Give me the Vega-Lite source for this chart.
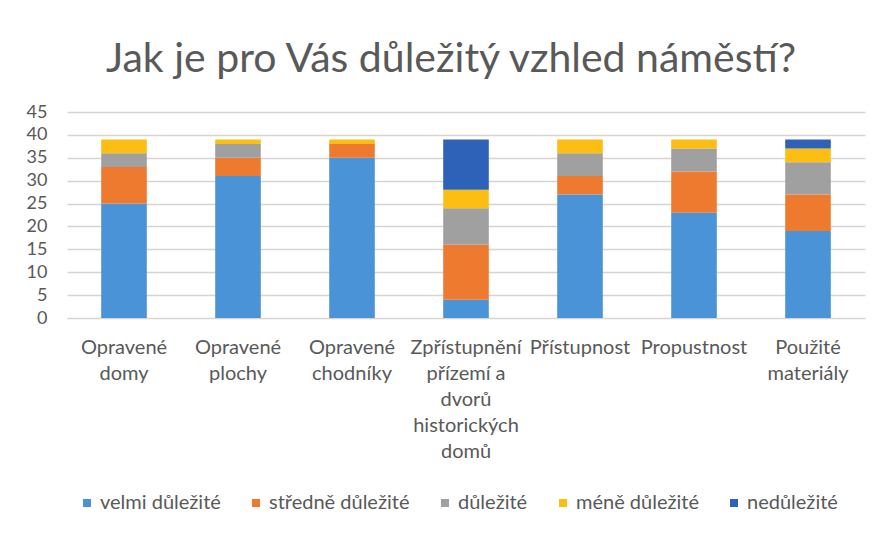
{
  "$schema": "https://vega.github.io/schema/vega-lite/v6.json",
  "width": 798,
  "height": 206,
  "autosize": {"type": "none"},
  "padding": {"left": 67, "top": 112, "right": 22, "bottom": 218},
  "background": "white",
  "title": {
    "text": "Jak je pro Vás důležitý vzhled náměstí?",
    "font": "Lato",
    "fontSize": 41,
    "fontWeight": "normal",
    "color": "#595959",
    "anchor": "middle",
    "offset": 22,
    "dx": -15
  },
  "data": {
    "values": [
      {"cat": "Opravené domy", "level": "velmi důležité", "o": 1, "v": 25},
      {"cat": "Opravené domy", "level": "středně důležité", "o": 2, "v": 8},
      {"cat": "Opravené domy", "level": "důležité", "o": 3, "v": 3},
      {"cat": "Opravené domy", "level": "méně důležité", "o": 4, "v": 3},
      {"cat": "Opravené domy", "level": "nedůležité", "o": 5, "v": 0},
      {"cat": "Opravené plochy", "level": "velmi důležité", "o": 1, "v": 31},
      {"cat": "Opravené plochy", "level": "středně důležité", "o": 2, "v": 4},
      {"cat": "Opravené plochy", "level": "důležité", "o": 3, "v": 3},
      {"cat": "Opravené plochy", "level": "méně důležité", "o": 4, "v": 1},
      {"cat": "Opravené plochy", "level": "nedůležité", "o": 5, "v": 0},
      {"cat": "Opravené chodníky", "level": "velmi důležité", "o": 1, "v": 35},
      {"cat": "Opravené chodníky", "level": "středně důležité", "o": 2, "v": 3},
      {"cat": "Opravené chodníky", "level": "důležité", "o": 3, "v": 0},
      {"cat": "Opravené chodníky", "level": "méně důležité", "o": 4, "v": 1},
      {"cat": "Opravené chodníky", "level": "nedůležité", "o": 5, "v": 0},
      {"cat": "Zpřístupnění přízemí a dvorů historických domů", "level": "velmi důležité", "o": 1, "v": 4},
      {"cat": "Zpřístupnění přízemí a dvorů historických domů", "level": "středně důležité", "o": 2, "v": 12},
      {"cat": "Zpřístupnění přízemí a dvorů historických domů", "level": "důležité", "o": 3, "v": 8},
      {"cat": "Zpřístupnění přízemí a dvorů historických domů", "level": "méně důležité", "o": 4, "v": 4},
      {"cat": "Zpřístupnění přízemí a dvorů historických domů", "level": "nedůležité", "o": 5, "v": 11},
      {"cat": "Přístupnost", "level": "velmi důležité", "o": 1, "v": 27},
      {"cat": "Přístupnost", "level": "středně důležité", "o": 2, "v": 4},
      {"cat": "Přístupnost", "level": "důležité", "o": 3, "v": 5},
      {"cat": "Přístupnost", "level": "méně důležité", "o": 4, "v": 3},
      {"cat": "Přístupnost", "level": "nedůležité", "o": 5, "v": 0},
      {"cat": "Propustnost", "level": "velmi důležité", "o": 1, "v": 23},
      {"cat": "Propustnost", "level": "středně důležité", "o": 2, "v": 9},
      {"cat": "Propustnost", "level": "důležité", "o": 3, "v": 5},
      {"cat": "Propustnost", "level": "méně důležité", "o": 4, "v": 2},
      {"cat": "Propustnost", "level": "nedůležité", "o": 5, "v": 0},
      {"cat": "Použité materiály", "level": "velmi důležité", "o": 1, "v": 19},
      {"cat": "Použité materiály", "level": "středně důležité", "o": 2, "v": 8},
      {"cat": "Použité materiály", "level": "důležité", "o": 3, "v": 7},
      {"cat": "Použité materiály", "level": "méně důležité", "o": 4, "v": 3},
      {"cat": "Použité materiály", "level": "nedůležité", "o": 5, "v": 2}
    ]
  },
  "mark": {"type": "bar"},
  "encoding": {
    "x": {
      "field": "cat",
      "type": "nominal",
      "sort": null,
      "scale": {"paddingInner": 0.6, "paddingOuter": 0.3},
      "axis": {
        "title": null,
        "labelAngle": 0,
        "labelFont": "Lato",
        "labelFontSize": 20,
        "labelColor": "#595959",
        "labelLineHeight": 26,
        "labelPadding": 29,
        "labelBaseline": "middle",
        "labelLimit": 200,
        "labelOverlap": false,
        "ticks": false,
        "domainColor": "#D9D4CF",
        "labelExpr": "datum.label == 'Zpřístupnění přízemí a dvorů historických domů' ? ['Zpřístupnění', 'přízemí a', 'dvorů', 'historických', 'domů'] : split(datum.label, ' ')"
      }
    },
    "y": {
      "field": "v",
      "type": "quantitative",
      "stack": "zero",
      "scale": {"domain": [0, 45]},
      "axis": {
        "title": null,
        "values": [0, 5, 10, 15, 20, 25, 30, 35, 40, 45],
        "labelFont": "Lato",
        "labelFontSize": 18,
        "labelColor": "#595959",
        "labelPadding": 20,
        "ticks": false,
        "domain": false,
        "gridColor": "#D9D4CF",
        "gridWidth": 1.5
      }
    },
    "color": {
      "field": "level",
      "type": "nominal",
      "sort": ["velmi důležité", "středně důležité", "důležité", "méně důležité", "nedůležité"],
      "scale": {
        "domain": ["velmi důležité", "středně důležité", "důležité", "méně důležité", "nedůležité"],
        "range": ["#4A93D6", "#EE7A30", "#A0A0A0", "#FCBE12", "#2E62B9"]
      },
      "legend": {
        "title": null,
        "orient": "none",
        "legendX": 10,
        "legendY": 381,
        "direction": "horizontal",
        "symbolType": "square",
        "symbolSize": 64,
        "symbolStrokeWidth": 0,
        "labelFont": "Lato",
        "labelFontSize": 20,
        "labelColor": "#595959",
        "columnPadding": 25,
        "labelOffset": 3
      }
    },
    "order": {"field": "o", "type": "quantitative"}
  },
  "config": {"view": {"stroke": null}}
}
